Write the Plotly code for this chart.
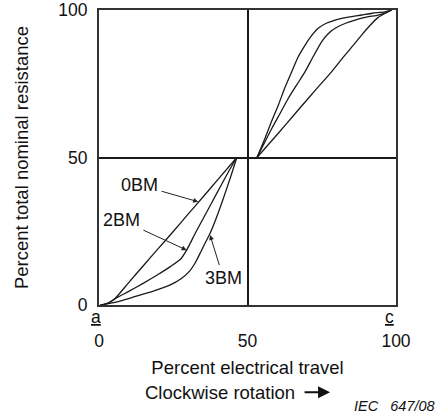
import plotly.graph_objects as go

# Lower-left (a side) characteristic curves
bm0_low_x = [0.5, 2, 5, 10, 15, 20, 25, 30, 35, 40, 46.4]
bm0_low_y = [0, 0.3, 1.8, 7.6, 13.4, 19.2, 24.9, 30.8, 36.6, 42.5, 50]
bm2_low_x = [0.5, 3, 6, 10, 15, 20, 24, 27.5, 29.5, 32.5, 36, 40, 43.5, 46.4]
bm2_low_y = [0, 0.6, 2.5, 4.6, 7.4, 10.4, 13.0, 15.6, 18.6, 24.5, 31, 38.5, 45, 50]
bm3_low_x = [0.5, 4, 8, 12, 16, 20, 24, 27.5, 30.5, 32.5, 34.5, 36, 37.4, 39.5, 42, 44.5, 46.4]
bm3_low_y = [0, 0.6, 1.6, 2.8, 4.0, 5.3, 6.8, 8.8, 11.5, 14.5, 18.5, 21.5, 24.3, 29.5, 36.5, 44, 50]

# Upper-right (c side) characteristic curves
cw_a_x = [53.2, 55.9, 58, 60.4, 62.5, 64.9, 67, 69.4, 71.5, 73.8, 76.5, 79.5, 84, 88.4, 92, 96.3, 98.5]
cw_a_y = [50, 56.5, 62, 67.8, 73.5, 79.1, 84, 88.1, 91.2, 93.8, 95.5, 96.6, 97.6, 98.3, 98.9, 99.4, 100]
cw_b_x = [53.2, 58, 61, 63.7, 66.5, 69.4, 72, 75, 77, 79.5, 83, 86.2, 90, 94, 97, 98.5]
cw_b_y = [50, 59.5, 65, 70, 74.5, 79.1, 84, 89.3, 91.8, 93.8, 95.5, 96.6, 97.6, 98.3, 99.2, 100]
cw_c_x = [53.2, 58, 63, 68, 73, 78, 82.8, 86, 88.4, 91, 94, 96.5, 98.5]
cw_c_y = [50, 55.5, 61.3, 67.2, 73, 78.7, 84.7, 88.5, 91.5, 94.5, 97.5, 99, 100]

tick_vals = [0, 50, 100]
tick_text = ["0", "50", "100"]

FONT = "Liberation Sans, Arial, sans-serif"
LINE = dict(color="#1a1a1a", width=1.3)

fig = go.Figure()
for xs, ys in [(bm0_low_x, bm0_low_y), (bm2_low_x, bm2_low_y), (bm3_low_x, bm3_low_y),
               (cw_a_x, cw_a_y), (cw_b_x, cw_b_y), (cw_c_x, cw_c_y)]:
    fig.add_trace(go.Scatter(x=xs, y=ys, mode="lines", line=dict(LINE, shape="spline", smoothing=0.6),
                             showlegend=False, hoverinfo="skip"))

axis_common = dict(range=[0, 100], tickvals=tick_vals, ticktext=tick_text, ticks="",
                   showline=True, mirror=True, linecolor="#333333", linewidth=2,
                   showgrid=True, gridcolor="#1a1a1a", gridwidth=1.5, zeroline=False,
                   automargin=False, ticklabeloverflow="allow",
                   tickfont=dict(family=FONT, size=17.5, color="#111"))

fig.update_layout(
    width=443, height=418,
    margin=dict(l=99, r=47, t=10, b=113),
    paper_bgcolor="white", plot_bgcolor="white",
    font=dict(family=FONT, size=18, color="#111"),
    xaxis=dict(axis_common, ticklabelstandoff=19,
               title=dict(text="Percent electrical travel", font=dict(size=18.5), standoff=11)),
    yaxis=dict(axis_common, ticklabelstandoff=6,
               title=dict(text="Percent total nominal resistance", font=dict(size=18.5), standoff=25)),
)

# Curve labels with arrows
labels = [("0BM", 13.7, 40.7, 33.4, 35.0), ("2BM", 7.6, 28.8, 29.5, 18.6), ("3BM", 41.9, 9.0, 37.4, 23.7)]
for txt, tx, ty, hx, hy in labels:
    fig.add_annotation(x=hx, y=hy, ax=tx, ay=ty, xref="x", yref="y", axref="x", ayref="y",
                       text=txt, showarrow=True, arrowhead=2, arrowsize=1, arrowwidth=1,
                       arrowcolor="#222", font=dict(size=18), standoff=0, startstandoff=2)

# End-terminal letters
fig.add_annotation(x=-0.035, y=-0.04, xref="x domain", yref="y domain", text="<u>a</u>", showarrow=False,
                   font=dict(size=17.5), yanchor="middle")
fig.add_annotation(x=1.0, y=-0.04, xref="x domain", yref="y domain", text="<u>c</u>", showarrow=False,
                   font=dict(size=17.5), yanchor="middle")

# Rotation direction
fig.add_annotation(x=0.148, y=-0.298, xref="x domain", yref="y domain", text="Clockwise rotation",
                   showarrow=False, xanchor="left", yanchor="middle", font=dict(size=18.5))
fig.add_annotation(x=0.778, y=-0.296, ax=-27, ay=0, xref="x domain", yref="y domain",
                   axref="pixel", ayref="pixel", text="", showarrow=True, arrowhead=2,
                   arrowsize=1.2, arrowwidth=2, arrowcolor="#111")
fig.add_annotation(x=1.138, y=-0.342, xref="x domain", yref="y domain", text="<i>IEC\u00a0\u00a0\u00a0647/08</i>",
                   showarrow=False, xanchor="right", yanchor="middle", font=dict(size=14.5))

fig.write_html("out.html", config={"displayModeBar": False},
               post_script="document.body.style.margin='0';")
